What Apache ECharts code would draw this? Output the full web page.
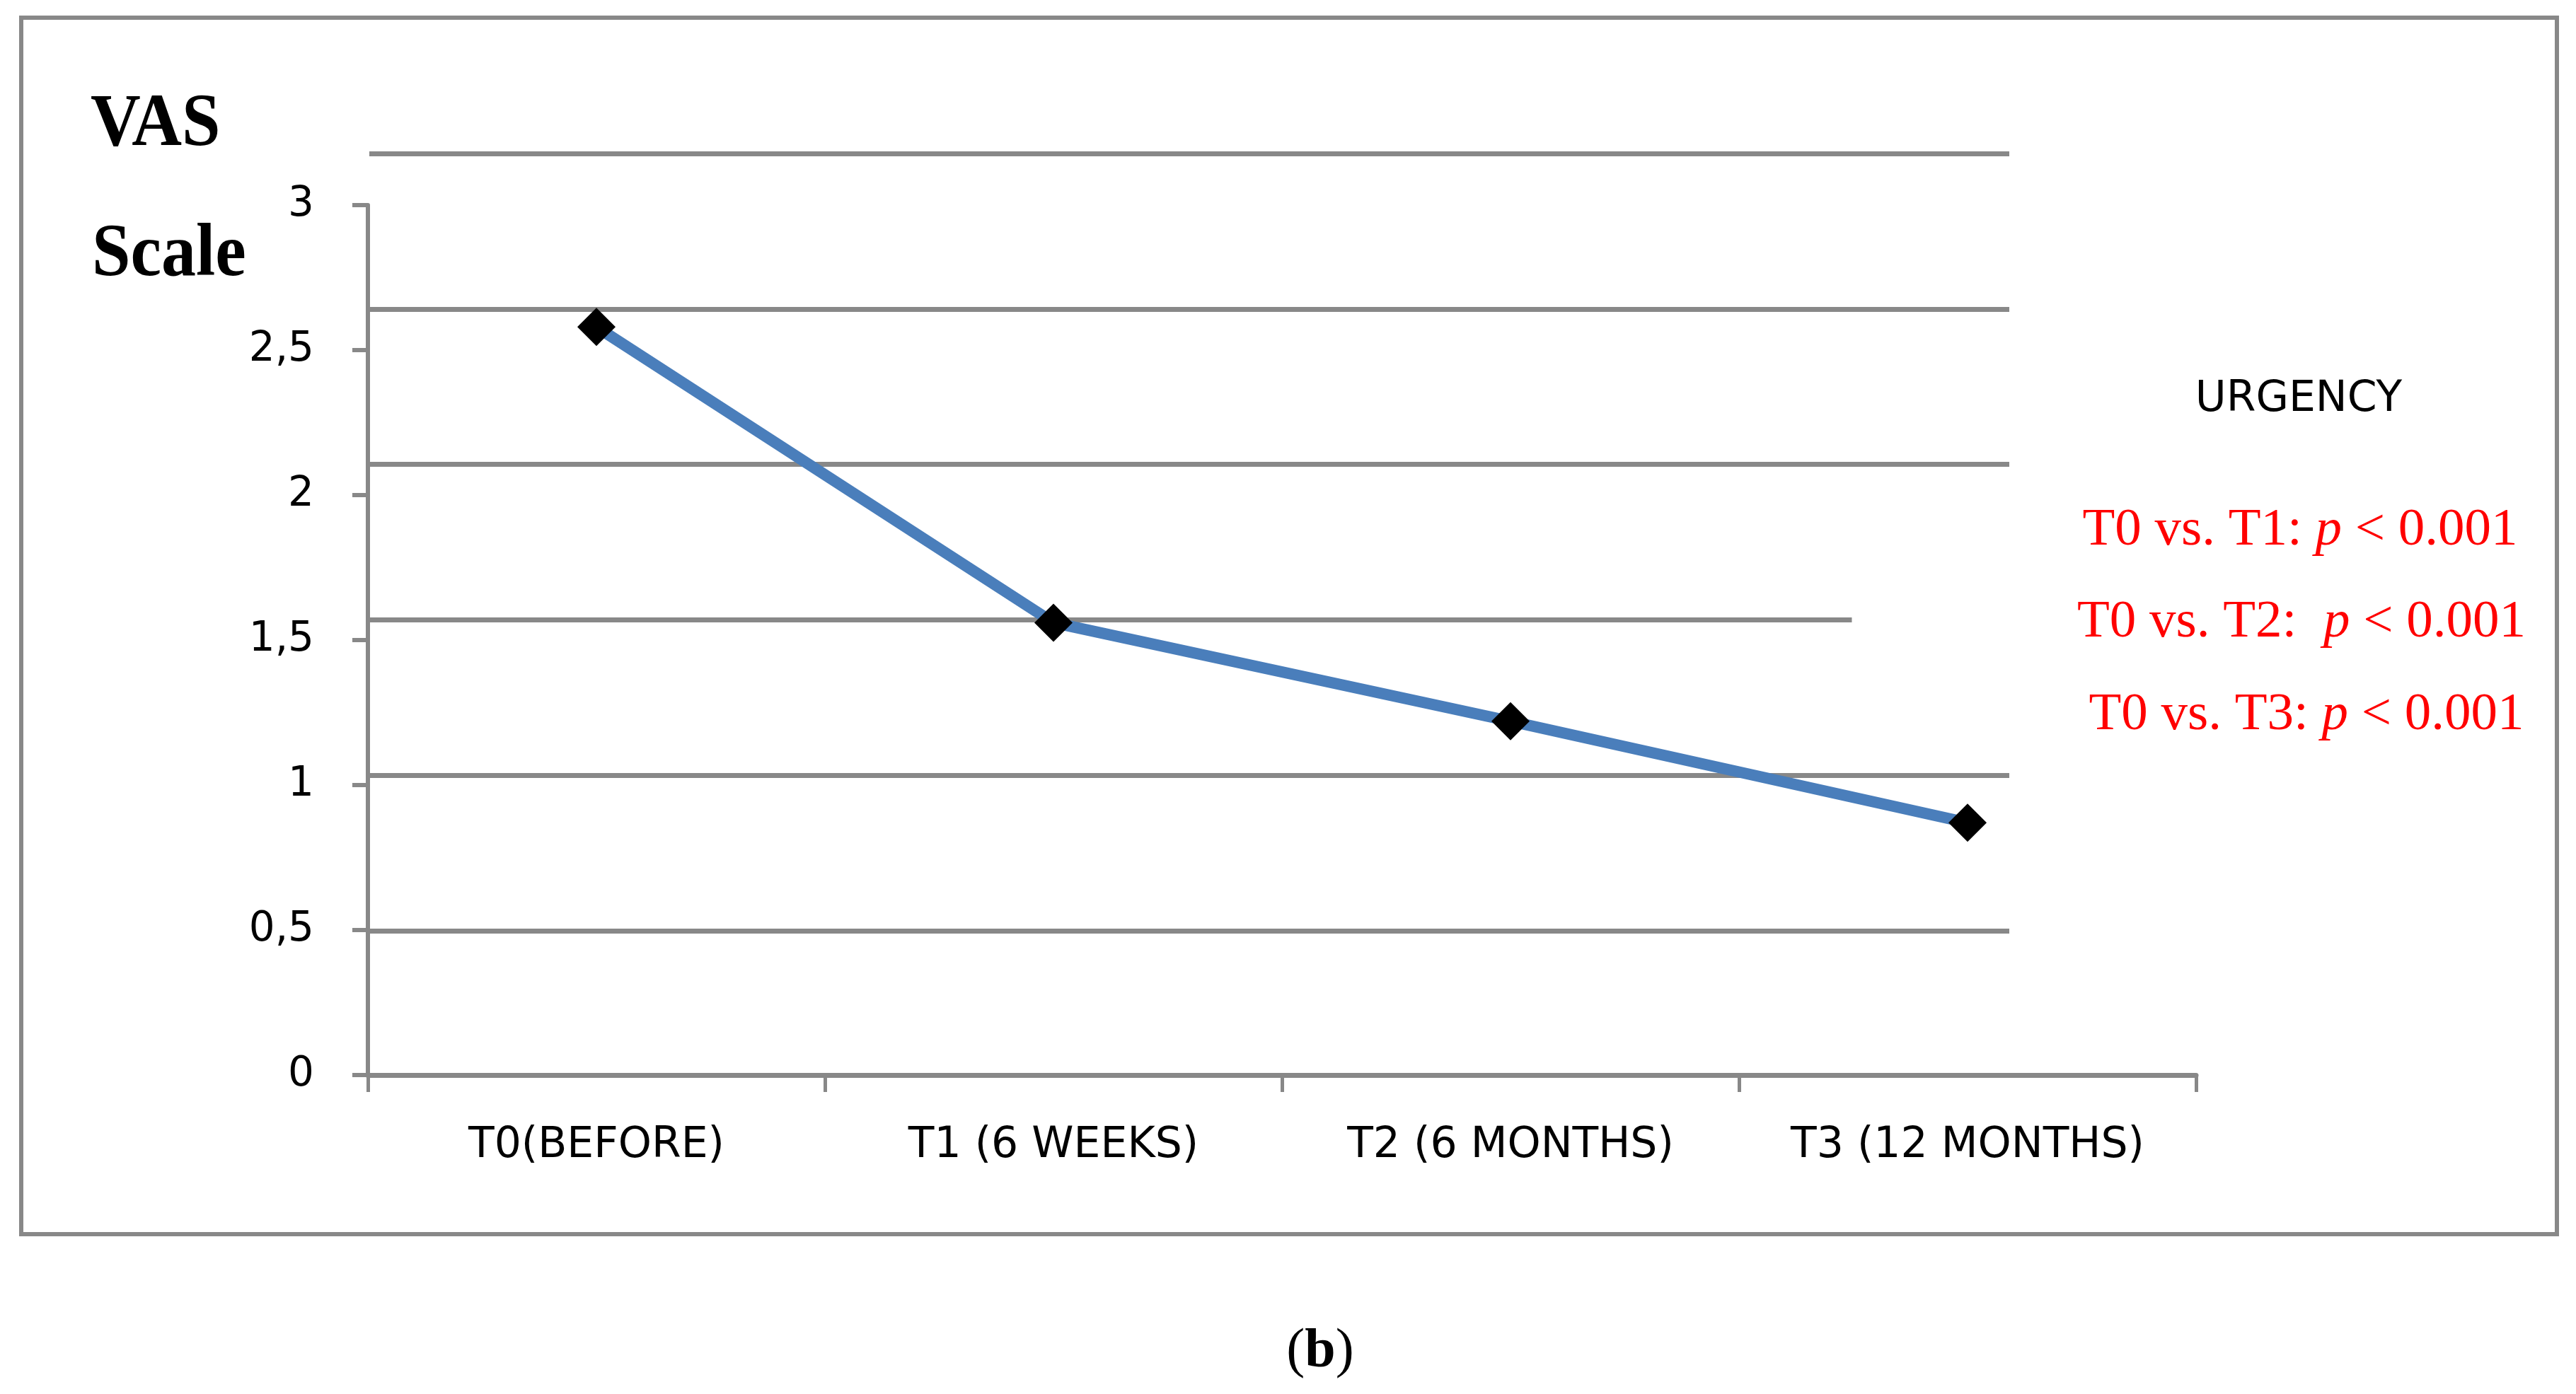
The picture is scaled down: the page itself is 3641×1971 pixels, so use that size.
<!DOCTYPE html>
<html><head><meta charset="utf-8">
<script src="https://cdn.jsdelivr.net/npm/echarts@6/dist/echarts.min.js"></script>
<style>html,body{margin:0;padding:0;background:#fff}#c{width:3641px;height:1971px}</style>
</head><body><div id="c"></div>
<script>
const categories = ['T0(BEFORE)', 'T1 (6 WEEKS)', 'T2 (6 MONTHS)', 'T3 (12 MONTHS)'];
const vasValues = [2.58, 1.56, 1.22, 0.87];
const yMin = 0, yMax = 3, yStep = 0.5;
const bgLineLevels = [0, 1, 2, 3, 4, 5];
const bgLineEnds = [1, 1, 0.904, 1, 1, 1];
const yTitleLines = ['VAS', 'Scale'];
const legendTitle = 'URGENCY';
const pComparisons = ['T0 vs. T1: ', 'T0 vs. T2:  ', 'T0 vs. T3: '];
const pValueText = ' < 0.001';
const panelLabel = 'b';

const GRAY = '#888888';
const chart = echarts.init(document.getElementById('c'), null, {renderer: 'canvas'});

const redRich = {
  a: {fontFamily: 'Liberation Serif', fontSize: 75, fill: '#ff0000'},
  i: {fontFamily: 'Liberation Serif', fontSize: 75, fill: '#ff0000', fontStyle: 'italic'}
};
const pCenters = [[3251, 750], [3253, 880], [3260, 1011]];

const graphics = [
  {type: 'rect', shape: {x: 30, y: 25, width: 3584, height: 1720}, style: {fill: 'none', stroke: GRAY, lineWidth: 6}, z: 0},
  {type: 'text', x: 128, y: 178, scaleY: 1.08, style: {text: yTitleLines[0], fontFamily: 'Liberation Serif', fontWeight: 'bold', fontSize: 98, fill: '#000', verticalAlign: 'middle', align: 'left'}},
  {type: 'text', x: 130, y: 362, scaleY: 1.08, style: {text: yTitleLines[1], fontFamily: 'Liberation Serif', fontWeight: 'bold', fontSize: 98, fill: '#000', verticalAlign: 'middle', align: 'left'}},
  {type: 'text', x: 3249, y: 565, style: {text: legendTitle, fontFamily: 'DejaVu Sans', fontSize: 60, fill: '#000', verticalAlign: 'middle', align: 'center'}},
  {type: 'text', x: 1866, y: 1912, style: {text: '{n|(}{b|' + panelLabel + '}{n|)}', rich: {n: {fontFamily: 'Liberation Serif', fontSize: 78, fill: '#000'}, b: {fontFamily: 'Liberation Serif', fontSize: 78, fontWeight: 'bold', fill: '#000'}}, verticalAlign: 'middle', align: 'center'}}
];
pComparisons.forEach((t, i) => {
  graphics.push({type: 'text', x: pCenters[i][0], y: pCenters[i][1], style: {text: '{a|' + t + '}{i|p}{a|' + pValueText + '}', rich: redRich, fill: '#ff0000', verticalAlign: 'middle', align: 'center'}});
});

const option = {
  backgroundColor: '#ffffff',
  animation: false,
  grid: [
    {left: 520, right: 537, top: 290, bottom: 451, containLabel: false},
    {left: 522, right: 801, top: 217, bottom: 655, containLabel: false}
  ],
  xAxis: [
    {
      type: 'category', gridIndex: 0, data: categories, boundaryGap: true,
      axisLine: {show: true, lineStyle: {color: GRAY, width: 7}},
      axisTick: {show: true, inside: false, length: 24, interval: 0, alignWithLabel: false, lineStyle: {color: GRAY, width: 5}},
      axisLabel: {interval: 0, hideOverlap: false, margin: 70, fontFamily: 'DejaVu Sans', fontSize: 60, color: '#000'},
      splitLine: {show: false}
    },
    {type: 'value', gridIndex: 1, min: 0, max: 1, show: false}
  ],
  yAxis: [
    {
      type: 'value', gridIndex: 0, min: yMin, max: yMax, interval: yStep,
      axisLine: {show: true, lineStyle: {color: GRAY, width: 6}},
      axisTick: {show: true, inside: false, length: 22, lineStyle: {color: GRAY, width: 6}},
      axisLabel: {margin: 76, fontFamily: 'DejaVu Sans', fontSize: 58, color: '#000',
        formatter: v => String(v).replace('.', ',')},
      splitLine: {show: false}
    },
    {type: 'value', gridIndex: 1, min: 0, max: 5, show: false}
  ],
  series: [
    {
      type: 'line', xAxisIndex: 1, yAxisIndex: 1, data: [], symbol: 'none', silent: true, z: 1,
      markLine: {
        symbol: 'none', silent: true, animation: false,
        label: {show: false},
        lineStyle: {color: GRAY, width: 7, type: 'solid'},
        data: bgLineLevels.map((lv, i) => [{coord: [0, lv]}, {coord: [bgLineEnds[i], lv]}])
      }
    },
    {
      type: 'line', xAxisIndex: 0, yAxisIndex: 0, data: vasValues, z: 5,
      symbol: 'diamond', symbolSize: 54,
      itemStyle: {color: '#000000'},
      lineStyle: {color: '#4a7ebb', width: 16},
      emphasis: {disabled: true}
    }
  ],
  graphic: graphics
};
chart.setOption(option);
</script>
</body></html>
